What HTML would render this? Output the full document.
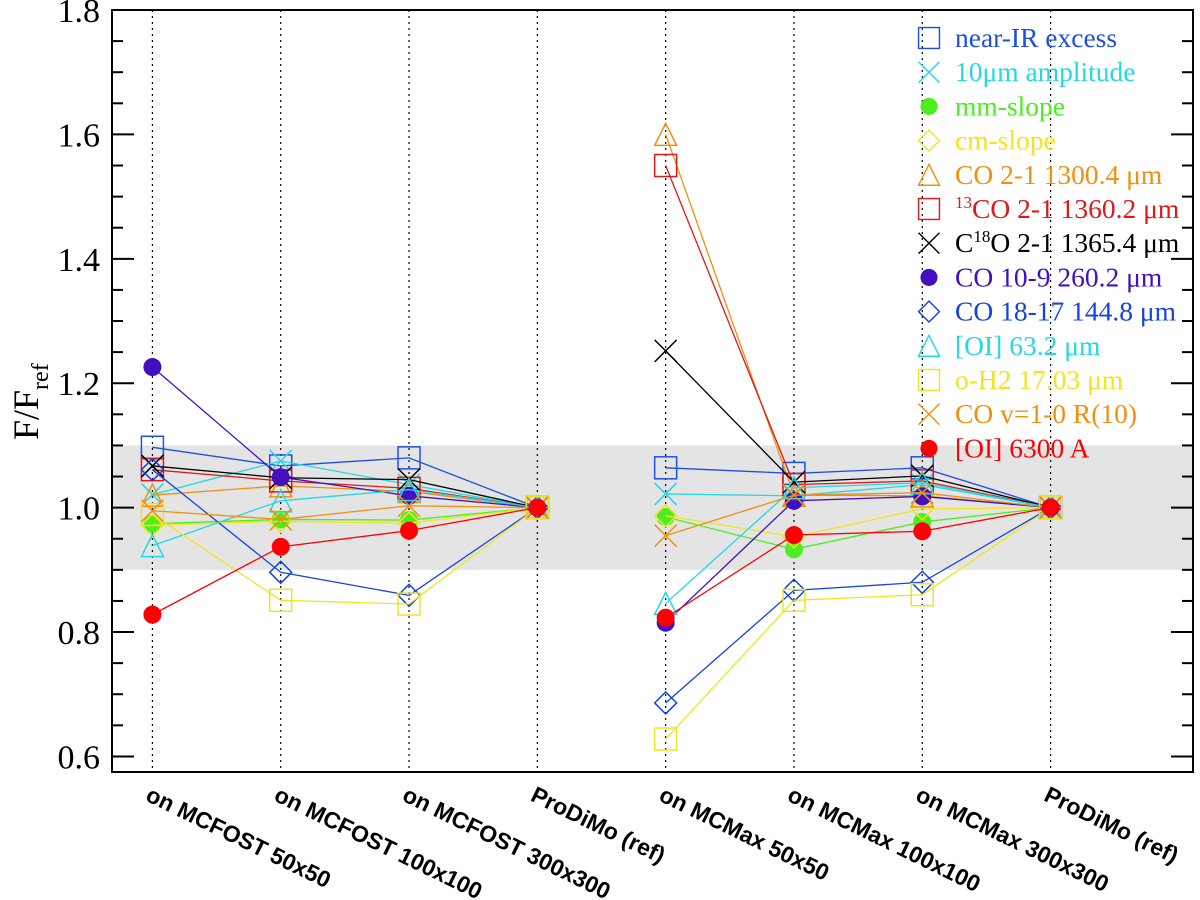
<!DOCTYPE html>
<html><head><meta charset="utf-8">
<style>
html,body{margin:0;padding:0;background:#fff;}
svg{display:block;}
</style></head>
<body>
<svg id="chart" width="1200" height="900" xmlns="http://www.w3.org/2000/svg">
<g id="bg"></g>
<g id="grid"></g>
<g id="axes"></g>
<g id="series"></g>
<g id="legend"></g>
<g id="labels"></g>
</svg>
<script>
const categories = ["on MCFOST 50x50","on MCFOST 100x100","on MCFOST 300x300","ProDiMo (ref)","on MCMax 50x50","on MCMax 100x100","on MCMax 300x300","ProDiMo (ref)"];
const seriesNames = ["near-IR excess","10\u03BCm amplitude","mm-slope","cm-slope","CO 2-1 1300.4 \u03BCm","13CO 2-1 1360.2 \u03BCm","C18O 2-1 1365.4 \u03BCm","CO 10-9 260.2 \u03BCm","CO 18-17 144.8 \u03BCm","[OI] 63.2 \u03BCm","o-H2 17.03 \u03BCm","CO v=1-0 R(10)","[OI] 6300 A"];
const nearIR   = [1.097,1.067,1.080,1.0, 1.064,1.055,1.064,1.0];
const tenMicron= [1.021,1.075,1.037,1.0, 1.022,1.019,1.037,1.0];
const mmSlope  = [0.974,0.981,0.980,1.0, 0.985,0.933,0.977,1.0];
const cmSlope  = [0.972,0.978,0.975,1.0, 0.987,0.953,0.998,1.0];
const co21     = [1.020,1.035,1.026,1.0, 1.600,1.020,1.019,1.0];
const co13     = [1.061,1.043,1.031,1.0, 1.550,1.037,1.043,1.0];
const c18o     = [1.067,1.048,1.045,1.0, 1.252,1.041,1.051,1.0];
const co109    = [1.226,1.049,1.019,1.0, 0.815,1.011,1.018,1.0];
const co1817   = [1.061,0.896,0.859,1.0, 0.686,0.867,0.880,1.0];
const oi63     = [0.939,1.011,1.029,1.0, 0.846,1.032,1.040,1.0];
const oh2      = [0.989,0.851,0.845,1.0, 0.628,0.851,0.860,1.0];
const cov10    = [0.995,0.981,1.003,1.0, 0.955,1.020,1.024,1.0];
const oi6300   = [0.828,0.937,0.963,1.0, 0.823,0.956,0.962,1.0];
const yTicks = [0.6,0.8,1.0,1.2,1.4,1.6,1.8];
const yTickLabels = ["0.6","0.8","1.0","1.2","1.4","1.6","1.8"];

const seriesValues=[nearIR,tenMicron,mmSlope,cmSlope,co21,co13,c18o,co109,co1817,oi63,oh2,cov10,oi6300];
const colors=["#1f4fe0","#22d8e8","#4cee22","#f2e424","#f0900e","#e01818","#000000","#4210c0","#1444e0","#22d8e8","#f2e424","#f0900e","#ff0000"];
const markers=["square","x","circle","diamond","triangle","square","x","circle","diamond","triangle","square","x","circle"];
const slugs=["near-ir-excess","10um-amplitude","mm-slope","cm-slope","co-2-1","13co-2-1","c18o-2-1","co-10-9","co-18-17","oi-63","o-h2","co-v1-0","oi-6300"];

const L=112,R=1193,T=10,B=772;
const yMin=0.575,yMax=1.8;
const xMin=-0.315,xMax=8.11;
const NS="http://www.w3.org/2000/svg";
function X(i){return L+(i-xMin)/(xMax-xMin)*(R-L);}
function Y(v){return B-(v-yMin)/(yMax-yMin)*(B-T);}
function mk(tag,attrs,parent){const e=document.createElementNS(NS,tag);for(const k in attrs)e.setAttribute(k,attrs[k]);parent.appendChild(e);return e;}

const bg=document.getElementById('bg');
const band=mk('rect',{x:L,y:Y(1.1),width:R-L,height:Y(0.9)-Y(1.1),fill:'#e4e4e4'},bg);



const grid=document.getElementById('grid');
categories.forEach((c,i)=>{
  const l=mk('line',{x1:X(i),x2:X(i),y1:T,y2:B,stroke:'#000','stroke-width':1.2,'stroke-dasharray':'2,4'},grid);
  
  
});

const axes=document.getElementById('axes');
const frame=mk('rect',{x:L,y:T,width:R-L,height:B-T,fill:'none',stroke:'#000','stroke-width':2},axes);


for(let v=0.6;v<=1.8001;v+=0.05){
  const major=Math.abs(v*5-Math.round(v*5))<1e-6;
  const len=major?22:11;
  mk('line',{x1:L,x2:L+len,y1:Y(v),y2:Y(v),stroke:'#000','stroke-width':2},axes);
  mk('line',{x1:R,x2:R-len,y1:Y(v),y2:Y(v),stroke:'#000','stroke-width':2},axes);
}
yTicks.forEach((v,i)=>{
  const t=mk('text',{x:100,y:Y(v)+12,'text-anchor':'end','font-family':'Liberation Serif, serif','font-size':34,fill:'#000'},axes);
  t.textContent=yTickLabels[i];
  
  
});
const yt=mk('text',{transform:'translate(38,440) rotate(-90)','font-family':'Liberation Serif, serif','font-size':36,fill:'#000'},axes);


yt.innerHTML='F/F<tspan font-size="24" dy="10">ref</tspan>';

const lab=document.getElementById('labels');
categories.forEach((c,i)=>{
  const t=mk('text',{transform:`translate(${X(i)-8},${800}) rotate(26)`,'font-family':'Liberation Sans, sans-serif','font-weight':'bold','font-size':23,fill:'#000'},lab);
  t.textContent=c;
  
  
});

function marker(type,cx,cy,col,parent){
  const s=11;
  if(type==='square') return mk('rect',{x:cx-s,y:cy-s,width:2*s,height:2*s,fill:'none',stroke:col,'stroke-width':1.5},parent);
  if(type==='circle') return mk('circle',{cx:cx,cy:cy,r:9,fill:col},parent);
  if(type==='diamond') return mk('polygon',{points:`${cx},${cy-s} ${cx+s},${cy} ${cx},${cy+s} ${cx-s},${cy}`,fill:'none',stroke:col,'stroke-width':1.5},parent);
  if(type==='triangle') return mk('polygon',{points:`${cx},${cy-s} ${cx+s},${cy+s} ${cx-s},${cy+s}`,fill:'none',stroke:col,'stroke-width':1.5},parent);
  return mk('path',{d:`M${cx-s},${cy-s}L${cx+s},${cy+s}M${cx+s},${cy-s}L${cx-s},${cy+s}`,fill:'none',stroke:col,'stroke-width':1.5},parent);
}

const sg=document.getElementById('series');
seriesValues.forEach((vals,k)=>{
  const g=mk('g',{},sg);
  
  
  [[0,4],[4,8]].forEach(([a,b])=>{
    let d='';
    for(let i=a;i<b;i++) d+=(i===a?'M':'L')+X(i)+','+Y(vals[i]);
    mk('path',{d:d,fill:'none',stroke:colors[k],'stroke-width':1.3},g);
  });
  vals.forEach((v,i)=>{
    const m=marker(markers[k],X(i),Y(v),colors[k],g);
    
    
  });
});

const lg=document.getElementById('legend');
seriesNames.forEach((n,k)=>{
  const y=38+k*34.2;
  const g=mk('g',{},lg);
  
  
  const m=marker(markers[k],929,y,colors[k],g);
  m.setAttribute('transform',`translate(929,${y}) scale(0.95) translate(-929,${-y})`);
  const t=mk('text',{x:955,y:y+9,'font-family':'Liberation Serif, serif','font-size':27.5,fill:colors[k]},g);
  if(k===5) t.innerHTML='<tspan font-size="17" dy="-10">13</tspan><tspan dy="10">CO 2-1 1360.2 \u03BCm</tspan>';
  else if(k===6) t.innerHTML='C<tspan font-size="17" dy="-10">18</tspan><tspan dy="10">O 2-1 1365.4 \u03BCm</tspan>';
  else t.textContent=n;
});
</script>
</body></html>
